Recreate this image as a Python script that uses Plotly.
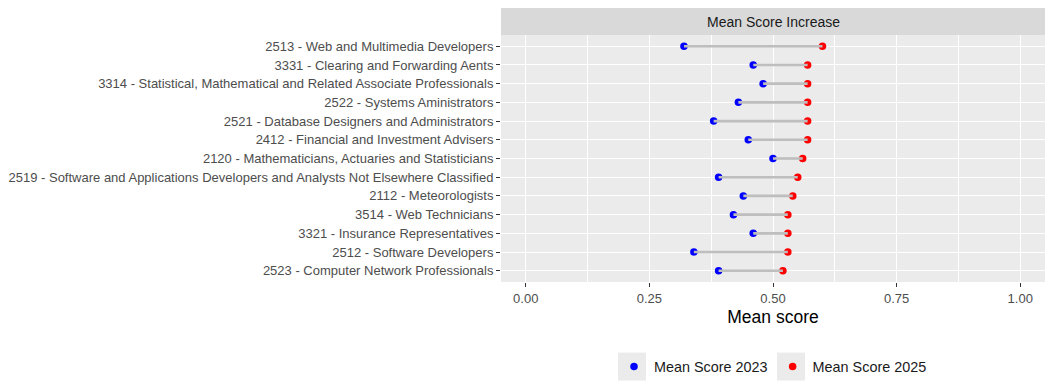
import plotly.graph_objects as go

occupations = [
    "2513 - Web and Multimedia Developers",
    "3331 - Clearing and Forwarding Aents",
    "3314 - Statistical, Mathematical and Related Associate Professionals",
    "2522 - Systems Aministrators",
    "2521 - Database Designers and Administrators",
    "2412 - Financial and Investment Advisers",
    "2120 - Mathematicians, Actuaries and Statisticians",
    "2519 - Software and Applications Developers and Analysts Not Elsewhere Classified",
    "2112 - Meteorologists",
    "3514 - Web Technicians",
    "3321 - Insurance Representatives",
    "2512 - Software Developers",
    "2523 - Computer Network Professionals",
]
score_2023 = [0.32, 0.46, 0.48, 0.43, 0.38, 0.45, 0.50, 0.39, 0.44, 0.42, 0.46, 0.34, 0.39]
score_2025 = [0.60, 0.57, 0.57, 0.57, 0.57, 0.57, 0.56, 0.55, 0.54, 0.53, 0.53, 0.53, 0.52]
x_ticks = [0, 0.25, 0.5, 0.75, 1.0]

FONT = "Liberation Sans, Arial, sans-serif"

fig = go.Figure()
fig.add_trace(go.Scatter(
    x=score_2023, y=occupations, mode="markers", name="Mean Score 2023",
    marker=dict(color="#0000FF", size=7.5),
))
fig.add_trace(go.Scatter(
    x=score_2025, y=occupations, mode="markers", name="Mean Score 2025",
    marker=dict(color="#FF0000", size=7.5),
))
seg_x, seg_y = [], []
for a, b, o in zip(score_2023, score_2025, occupations):
    seg_x += [a, b, None]
    seg_y += [o, o, None]
fig.add_trace(go.Scatter(
    x=seg_x, y=seg_y, mode="lines", showlegend=False,
    line=dict(color="#BEBEBE", width=2.6), hoverinfo="skip",
))

# page offset from default body margin
OFF = 8
W, H = 1047, 384
L, R, T, B = 493, 10, 26.75, 109.75
ph = H - T - B
pw = W - L - R

def px_x(x):
    return (x - OFF - L) / pw

def px_y(y):
    return (H - B - (y - OFF)) / ph

fig.update_layout(
    width=W, height=H,
    margin=dict(l=L, r=R, t=T, b=B, autoexpand=False),
    paper_bgcolor="white",
    plot_bgcolor="#EBEBEB",
    font=dict(family=FONT, color="#4D4D4D", size=13),
    xaxis=dict(
        range=[-0.05, 1.05], tickvals=x_ticks, tickformat=".2f",
        showgrid=True, gridcolor="white", gridwidth=1.1, zeroline=False,
        ticks="outside", ticklen=4, tickcolor="#333333", tickwidth=1.1,
        tickfont=dict(size=13, color="#4D4D4D"),
        minor=dict(tickvals=[0.125, 0.375, 0.625, 0.875], showgrid=True,
                   gridcolor="white", gridwidth=0.55),
        title=dict(text="Mean score", font=dict(size=17.5, color="black"), standoff=6),
        fixedrange=True,
    ),
    yaxis=dict(
        type="category", categoryorder="array", categoryarray=occupations,
        range=[len(occupations) - 0.4, -0.6],
        showgrid=True, gridcolor="white", gridwidth=1.1, zeroline=False,
        ticks="outside", ticklen=4, tickcolor="#333333", tickwidth=1.1,
        tickfont=dict(size=13, color="#4D4D4D"),
    ),
    legend=dict(
        orientation="h", x=px_x(773), xanchor="center", y=px_y(367), yanchor="middle",
        font=dict(size=14.4, color="#1A1A1A"), bgcolor="rgba(0,0,0,0)",
    ),
    shapes=[
        dict(type="rect", xref="paper", yref="paper", x0=0, x1=1,
             y0=1, y1=1 + 27 / ph, fillcolor="#D9D9D9", line=dict(width=0), layer="below"),
        dict(type="rect", xref="paper", yref="paper", x0=px_x(618), x1=px_x(646),
             y0=px_y(381), y1=px_y(353), fillcolor="#EBEBEB", line=dict(width=0), layer="below"),
        dict(type="rect", xref="paper", yref="paper", x0=px_x(777), x1=px_x(805),
             y0=px_y(381), y1=px_y(353), fillcolor="#EBEBEB", line=dict(width=0), layer="below"),
    ],
    annotations=[
        dict(text="Mean Score Increase", xref="paper", yref="paper", x=0.5,
             y=1 + 13.5 / ph, xanchor="center", yanchor="middle", showarrow=False,
             font=dict(size=14, color="#1A1A1A")),
    ],
)

fig.write_html("out.html")
